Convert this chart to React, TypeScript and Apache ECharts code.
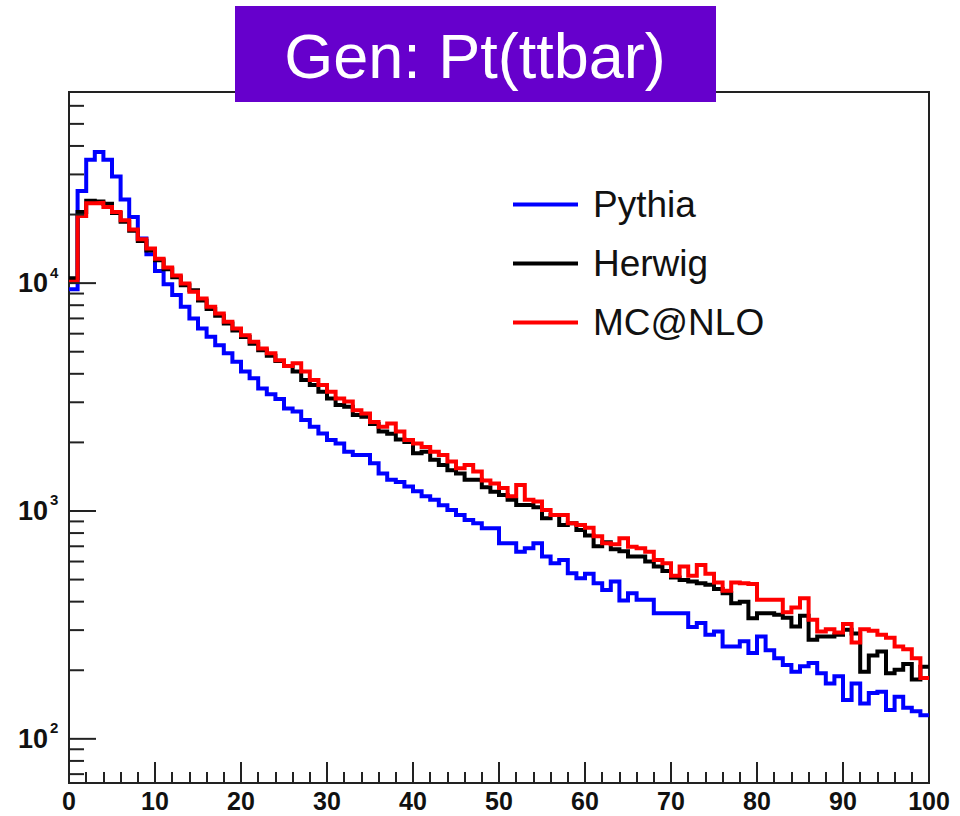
import React, { useEffect, useRef } from "react";
import * as echarts from "echarts";

// ---- data (one value per 1-unit bin, 0..100) ----
const seriesNames = ["Pythia", "Herwig", "MC@NLO"];
const seriesColors = ["#0000ff", "#000000", "#ff0000"];

const pythia = [
  9400, 25400, 34800, 37600, 34800, 29400, 23300, 19500, 15700, 13400,
  11300, 9900, 8860, 7870, 7000, 6330, 5810, 5340, 4920, 4520,
  4090, 3820, 3450, 3250, 3100, 2820, 2730, 2510, 2340, 2190,
  2050, 1980, 1820, 1760, 1760, 1620, 1460, 1370, 1340, 1280,
  1220, 1160, 1120, 1060, 1010, 960, 913, 883, 840, 840,
  721, 721, 663, 686, 721, 631, 590, 610, 533, 507,
  530, 482, 450, 490, 405, 436, 408, 408, 356, 356,
  356, 356, 310, 322, 286, 296, 254, 254, 268, 238,
  281, 245, 226, 211, 197, 208, 215, 194, 175, 188,
  148, 175, 143, 159, 161, 134, 153, 137, 132, 127,
];

const herwig = [
  10500, 20500, 23000, 22800, 22300, 20300, 18600, 17000, 15300, 13900,
  12600, 11500, 10600, 9800, 9300, 8400, 7700, 7200, 6650, 6200,
  5800, 5420, 5080, 4800, 4550, 4330, 4090, 3760, 3570, 3340,
  3120, 2920, 2870, 2640, 2590, 2410, 2230, 2180, 2060, 2010,
  1790, 1820, 1680, 1590, 1510, 1460, 1370, 1370, 1270, 1216,
  1175, 1120, 1063, 1063, 1038, 929, 960, 868, 883, 826,
  780, 700, 730, 680, 665, 631, 631, 600, 571, 545,
  510, 498, 490, 482, 475, 455, 436, 394, 400, 338,
  356, 356, 350, 340, 311, 347, 272, 281, 281, 286,
  301, 290, 197, 232, 242, 194, 201, 213, 182, 207,
];

const mcatnlo = [
  10130, 19700, 22400, 22500, 21600, 20500, 18900, 17200, 15600, 14200,
  12800, 11700, 10800, 9970, 9160, 8570, 7870, 7360, 6770, 6330,
  5910, 5530, 5170, 4920, 4590, 4330, 4450, 4090, 3760, 3570,
  3340, 3120, 3020, 2770, 2680, 2460, 2340, 2420, 2230, 2050,
  1980, 1910, 1820, 1760, 1650, 1540, 1590, 1490, 1360, 1320,
  1260, 1160, 1300, 1120, 1100, 1010, 960, 960, 883, 868,
  845, 775, 721, 715, 759, 697, 686, 663, 610, 590,
  520, 571, 520, 580, 530, 486, 447, 486, 482, 478,
  408, 408, 408, 359, 377, 414, 333, 296, 303, 293,
  319, 265, 303, 298, 286, 278, 254, 247, 226, 185,
];

const yMajorTicks = [100, 1000, 10000];
const yMinorTicks = [
  70, 80, 90,
  200, 300, 400, 500, 600, 700, 800, 900,
  2000, 3000, 4000, 5000, 6000, 7000, 8000, 9000,
  20000, 30000, 40000, 50000, 60000,
];
const titleText = "Gen: Pt(ttbar)";

const FONT = '"Liberation Sans", Arial, Helvetica, sans-serif';

function toSteps(values: number[]) {
  const pts: number[][] = values.map((v, i) => [i, v]);
  pts.push([values.length, values[values.length - 1]]);
  return pts;
}

export default function App() {
  const ref = useRef<HTMLDivElement>(null);

  useEffect(() => {
    if (!ref.current) return;
    const chart = echarts.init(ref.current, undefined, { renderer: "svg" });
    const datasets = [pythia, herwig, mcatnlo];

    const lineSeries = datasets.map((d, i) => ({
      type: "line",
      name: seriesNames[i],
      data: toSteps(d),
      step: "end",
      symbol: "none",
      showSymbol: false,
      silent: true,
      z: 3 + i,
      itemStyle: { color: seriesColors[i] },
      lineStyle: { color: seriesColors[i], width: 4, join: "miter" },
    }));

    const tickData = [
      ...yMajorTicks.map((v) => [0, v, 1]),
      ...yMinorTicks.map((v) => [0, v, 0]),
    ];

    const tickSeries = {
      type: "custom",
      name: "yticks",
      coordinateSystem: "cartesian2d",
      clip: false,
      silent: true,
      z: 10,
      data: tickData,
      encode: { x: 0, y: 1 },
      renderItem: (_params: any, api: any) => {
        const v = api.value(1) as number;
        const major = api.value(2) === 1;
        const p = api.coord([0, v]);
        const children: any[] = [
          {
            type: "line",
            shape: { x1: p[0], y1: p[1], x2: p[0] + (major ? 27 : 15), y2: p[1] },
            style: { stroke: "#222", lineWidth: 2 },
          },
        ];
        if (major) {
          const exp = String(Math.round(Math.log10(v)));
          children.push({
            type: "text",
            x: p[0] - 21,
            y: p[1],
            style: {
              text: "10",
              fill: "#111",
              fontSize: 27,
              fontWeight: "bold",
              fontFamily: FONT,
              align: "right",
              verticalAlign: "middle",
            },
          });
          children.push({
            type: "text",
            x: p[0] - 19,
            y: p[1] - 11,
            style: {
              text: exp,
              fill: "#111",
              fontSize: 15,
              fontWeight: "bold",
              fontFamily: FONT,
              align: "left",
              verticalAlign: "middle",
            },
          });
        }
        return { type: "group", children };
      },
    };

    chart.setOption({
      animation: false,
      backgroundColor: "#ffffff",
      grid: {
        left: 69,
        right: 31,
        top: 92,
        bottom: 33,
        show: true,
        borderColor: "#222",
        borderWidth: 2,
        backgroundColor: "transparent",
      },
      xAxis: {
        type: "value",
        min: 0,
        max: 100,
        interval: 10,
        axisLine: { show: false },
        axisTick: { show: true, inside: true, length: 21, lineStyle: { color: "#222", width: 2 } },
        minorTick: { show: true, splitNumber: 5, length: 11, lineStyle: { color: "#222", width: 2 } },
        splitLine: { show: false },
        minorSplitLine: { show: false },
        axisLabel: {
          show: true,
          margin: 7,
          lineHeight: 22,
          color: "#111",
          fontSize: 25,
          fontWeight: "bold",
          fontFamily: FONT,
        },
      },
      yAxis: {
        type: "log",
        logBase: 10,
        min: 64,
        max: 69000,
        axisLine: { show: false },
        axisTick: { show: false },
        axisLabel: { show: false },
        splitLine: { show: false },
        minorTick: { show: false },
        minorSplitLine: { show: false },
      },
      legend: {
        data: seriesNames,
        orient: "vertical",
        left: 513,
        top: 186,
        padding: 0,
        itemWidth: 65,
        itemHeight: 4,
        itemGap: 22,
        icon: "rect",
        selectedMode: false,
        textStyle: {
          fontSize: 37,
          fontFamily: FONT,
          color: "#111",
          padding: [7, 0, 0, 10],
        },
      },
      graphic: [
        {
          type: "rect",
          z: 100,
          shape: { x: 235, y: 6, width: 481, height: 96 },
          style: { fill: "#6600cc" },
        },
        {
          type: "text",
          z: 101,
          x: 475,
          y: 56,
          style: {
            text: titleText,
            fill: "#ffffff",
            fontSize: 63,
            fontFamily: FONT,
            align: "center",
            verticalAlign: "middle",
          },
        },
      ],
      series: [...lineSeries, tickSeries],
    });

    return () => chart.dispose();
  }, []);

  return (
    <div
      ref={ref}
      style={{ position: "fixed", left: 0, top: 0, width: 960, height: 816, background: "#fff" }}
    />
  );
}
